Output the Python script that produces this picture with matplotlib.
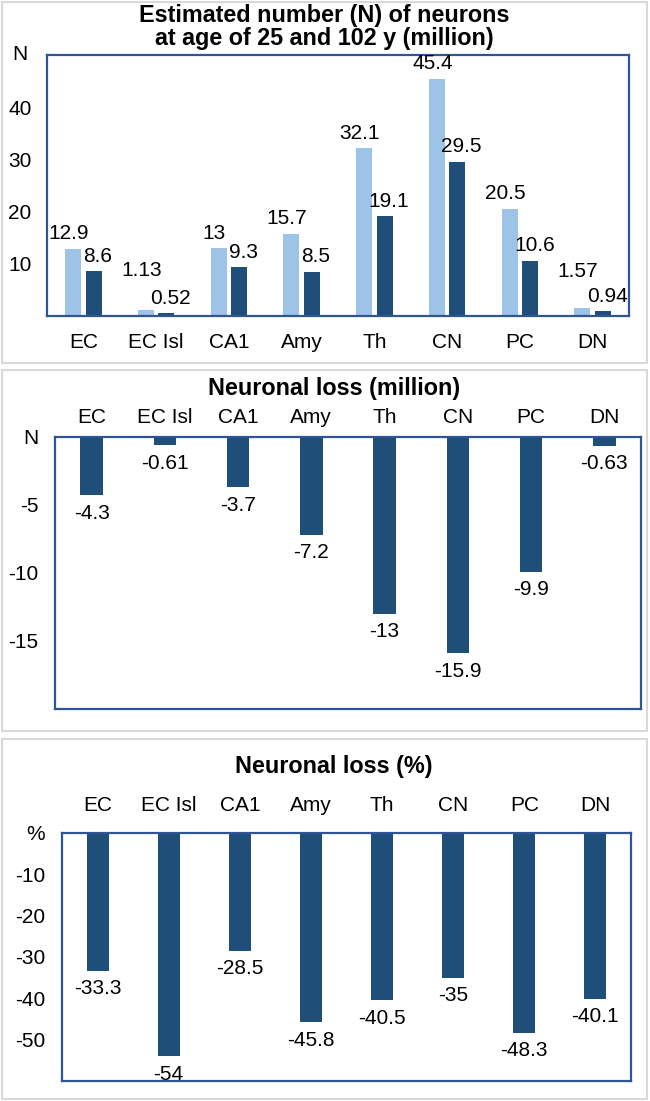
import matplotlib
matplotlib.use("Agg")
import matplotlib.pyplot as plt
from matplotlib.patches import Rectangle
import numpy as np

plt.rcParams['font.family'] = ['Liberation Sans', 'DejaVu Sans']

categories = ['EC', 'EC Isl', 'CA1', 'Amy', 'Th', 'CN', 'PC', 'DN']
n_age25 = [12.9, 1.13, 13, 15.7, 32.1, 45.4, 20.5, 1.57]
n_age102 = [8.6, 0.52, 9.3, 8.5, 19.1, 29.5, 10.6, 0.94]
loss_million = [-4.3, -0.61, -3.7, -7.2, -13, -15.9, -9.9, -0.63]
loss_pct = [-33.3, -54, -28.5, -45.8, -40.5, -35, -48.3, -40.1]

titles = ['Estimated number (N) of neurons\nat age of 25 and 102 y (million)',
          'Neuronal loss (million)', 'Neuronal loss (%)']

# extra vertical lift (points) of the age-25 labels, as moved in the original
lift25 = [0, 18, 0, 0, 0, 0, 0, 15]

LIGHT = '#9DC3E6'
DARK = '#1F4E79'
FRAME = '#2F5597'
GRAY = '#D9D9D9'
FS = 15
TFS = 16.8

W, H = 650, 1101
fig = plt.figure(figsize=(W / 100, H / 100), dpi=100)


def ax_px(x0, y0, x1, y1):
    return fig.add_axes([x0 / W, 1 - y1 / H, (x1 - x0) / W, (y1 - y0) / H])


def outer(y0, y1):
    fig.patches.append(Rectangle((1.5 / W, 1 - y1 / H), (647 - 1.5) / W, (y1 - y0) / H,
                                 transform=fig.transFigure, fill=False,
                                 edgecolor=GRAY, linewidth=1.5))


def style(ax):
    for s in ax.spines.values():
        s.set_color(FRAME)
        s.set_linewidth(1.6)
    ax.tick_params(length=0, labelsize=FS)
    ax.set_xlim(-0.5, len(categories) - 0.5)


def fmt(v):
    return '{:g}'.format(v)


x = np.arange(len(categories))

# Panel 1
outer(1.5, 363)
ax1 = ax_px(47, 55, 629, 316)
style(ax1)
bw = 0.22
ax1.bar(x - 0.142, n_age25, width=bw, color=LIGHT)
ax1.bar(x + 0.142, n_age102, width=bw, color=DARK)
ax1.set_ylim(0, 50)
ax1.set_yticks([10, 20, 30, 40])
ax1.set_xticks(x)
ax1.set_xticklabels(categories)
ax1.tick_params(axis='x', pad=12)
ax1.tick_params(axis='y', pad=11)
for xi, v, lf in zip(x, n_age25, lift25):
    ax1.annotate(fmt(v), (xi - 0.142, v), xytext=(-3, 4 + lf), textcoords='offset points',
                 ha='center', va='bottom', fontsize=FS, annotation_clip=False)
for xi, v in zip(x, n_age102):
    ax1.annotate(fmt(v), (xi + 0.142, v), xytext=(3, 4), textcoords='offset points',
                 ha='center', va='bottom', fontsize=FS, annotation_clip=False)
fig.text(20 / W, 1 - 54 / H, 'N', fontsize=FS, ha='center', va='center')
fig.text(324 / W, 1 - 27 / H, titles[0], fontsize=TFS, fontweight='bold',
         ha='center', va='center', linespacing=1.0)

# Panel 2
outer(370, 731)
ax2 = ax_px(55, 437, 641, 709)
style(ax2)
ax2.bar(x, loss_million, width=0.31, color=DARK)
ax2.set_ylim(-20, 0)
ax2.set_yticks([0, -5, -10, -15])
ax2.set_yticklabels(['N', '-5', '-10', '-15'])
ax2.xaxis.tick_top()
ax2.set_xticks(x)
ax2.set_xticklabels(categories)
ax2.tick_params(axis='x', pad=7)
ax2.tick_params(axis='y', pad=12)
for xi, v in zip(x, loss_million):
    ax2.annotate(fmt(v), (xi, v), xytext=(0, -6), textcoords='offset points',
                 ha='center', va='top', fontsize=FS, annotation_clip=False)
fig.text(334 / W, 1 - 388 / H, titles[1], fontsize=TFS, fontweight='bold',
         ha='center', va='center')

# Panel 3
outer(739, 1099)
ax3 = ax_px(62, 833, 631, 1081)
style(ax3)
ax3.bar(x, loss_pct, width=0.31, color=DARK)
ax3.set_ylim(-60, 0)
ax3.set_yticks([0, -10, -20, -30, -40, -50])
ax3.set_yticklabels(['%', '-10', '-20', '-30', '-40', '-50'])
ax3.xaxis.tick_top()
ax3.set_xticks(x)
ax3.set_xticklabels(categories)
ax3.tick_params(axis='x', pad=13)
ax3.tick_params(axis='y', pad=12)
for xi, v in zip(x, loss_pct):
    ax3.annotate(fmt(v), (xi, v), xytext=(0, -6), textcoords='offset points',
                 ha='center', va='top', fontsize=FS, annotation_clip=False)
fig.text(334 / W, 1 - 767 / H, titles[2], fontsize=TFS, fontweight='bold',
         ha='center', va='center')

fig.savefig('out.png', dpi=100)
